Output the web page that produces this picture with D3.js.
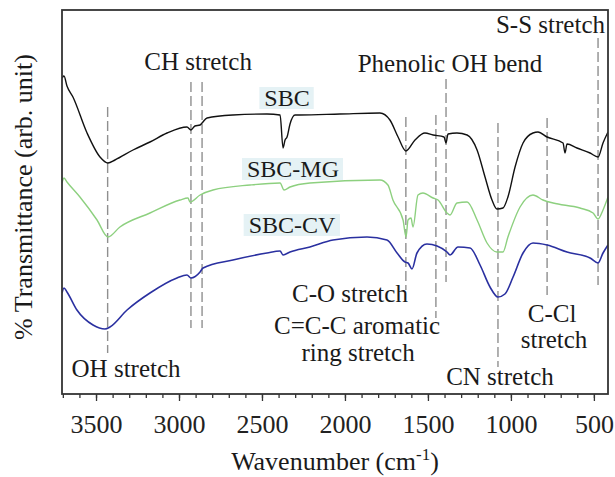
<!DOCTYPE html>
<html>
<head>
<meta charset="utf-8">
<script src="https://cdn.jsdelivr.net/npm/d3@7"></script>
<style>
  body { margin: 0; background: #fff; }
  svg { display: block; font-family: "Liberation Serif", "Times New Roman", serif; }
  .frame { fill: none; stroke: #333; stroke-width: 1.8; }
  .tick line { stroke: #333; stroke-width: 1.3; }
  .tick text { font-size: 26px; fill: #222; font-family: "Liberation Serif", serif; }
  .band { stroke: #8f8f8f; stroke-width: 1.4; stroke-dasharray: 10 4; }
  .note { font-size: 25px; fill: #1a1a1a; }
  .series-label { font-size: 24px; fill: #1a1a1a; }
  .series-box { fill: #e5f2f5; }
  .axis-title { font-size: 26px; fill: #1a1a1a; }
</style>
</head>
<body>
<div id="chart"></div>
<script>
// Wavenumber (cm-1) / transmittance (arb. unit)
const sbcWn = [3705, 3693, 3675, 3639, 3554, 3476, 3428, 3386, 3277, 3175, 3072, 2952, 2928, 2904, 2873,
  2861, 2831, 2675, 2470, 2391, 2373, 2361, 2349, 2331, 2301, 2271, 2030, 1789, 1729, 1680, 1633, 1578,
  1518, 1469, 1403, 1391, 1379, 1325, 1264, 1204, 1156, 1114, 1084, 1048, 1018, 975, 927, 867, 837, 782,
  686, 674, 662, 602, 523, 475, 445, 415];
const sbcT = [79, 79.5, 77, 74.25, 65.25, 59.25, 57.75, 58.5, 61, 63, 65.25, 66.75, 66, 67, 67.25,
  67.75, 69, 69.75, 70, 69.75, 61.5, 63.5, 64.25, 67.5, 69.75, 69.75, 70, 70.25, 68.5, 64.25, 60.75, 63.5,
  65.25, 64.75, 64.25, 62.75, 65, 65.25, 64.75, 61, 54.25, 48.5, 46.25, 46.5, 49.25, 56.75, 62.75, 65.25, 65.5, 64.25,
  62.75, 60.25, 62.5, 61.5, 60.25, 59.25, 62.75, 65.5];

const mgWn = [3705, 3693, 3675, 3597, 3494, 3428, 3356, 3175, 2994, 2946, 2934, 2873, 2795, 2572, 2391,
  2367, 2331, 2211, 1789, 1741, 1711, 1650, 1632, 1620, 1602, 1590, 1560, 1530, 1469, 1439, 1385, 1367,
  1325, 1264, 1204, 1144, 1084, 1048, 1018, 945, 867, 807, 746, 584, 505, 475, 445, 415];
const mgT = [52.75, 54, 53, 49.25, 43.5, 39.25, 41.75, 45.25, 48.5, 49, 48, 49.75, 51, 52.25, 52.75,
  51, 51.75, 52.75, 53.5, 52.25, 48.5, 43.5, 39.25, 43.5, 44, 41.75, 49.75, 50.25, 49, 48.5, 45.25, 44.75,
  47.75, 48, 43.5, 37.75, 35.5, 35.5, 39.25, 46.75, 49.75, 48.5, 47.75, 46.5, 45.25, 43.75, 46, 49.25];

const cvWn = [3705, 3693, 3675, 3615, 3518, 3446, 3416, 3313, 3175, 3012, 2952, 2928, 2873, 2855, 2675,
  2470, 2391, 2373, 2331, 2211, 2072, 1867, 1747, 1686, 1638, 1620, 1596, 1566, 1506, 1445, 1385, 1367,
  1319, 1246, 1186, 1126, 1078, 1036, 987, 927, 867, 782, 662, 523, 475, 445, 415];
const cvT = [25.25, 26.5, 25.5, 21, 17.25, 16.25, 16.75, 21, 25.25, 29, 29.75, 29, 30.5, 31.5, 33.5,
  35.25, 35.75, 34.75, 35.5, 36.75, 38.5, 39.25, 38.5, 35.25, 33, 32.75, 31.25, 35.25, 37.5, 37, 35.5, 34.75,
  36.75, 36.5, 32.25, 26.75, 24.25, 25, 29.25, 35.25, 37.75, 37.25, 35.5, 34, 32.75, 35.25, 37.25];

const seriesNames = ['SBC', 'SBC-MG', 'SBC-CV'];
const seriesColors = ['#111111', '#8dd07f', '#2a30a0'];

// Assigned bands: wavenumber, and the span of the dashed marker (arb. unit)
const bandWn = [3430, 2928, 2861, 1633, 1452, 1391, 1078, 782, 475];
const bandTop = [71.75, 78, 78, 69.25, 69.75, 78.75, 67.75, 69, 89];
const bandBottom = [10.25, 16.5, 16.5, 26, 19, 28, 6.75, 24.75, 27.25];

const majorTicks = [3500, 3000, 2500, 2000, 1500, 1000, 500];
const minorTicks = d3.range(3700, 400, -100);

const xLabel = 'Wavenumber (cm';
const yLabel = '% Transmittance (arb. unit)';

class Spectrum {

  constructor(selector) {
    this.width = 615;
    this.height = 477;
    this.margin = { top: 10, right: 7, bottom: 83, left: 62 };
    this.svg = d3.select(selector).append('svg')
      .attr('width', this.width)
      .attr('height', this.height);
    this.x = d3.scaleLinear()
      .domain([3705, 415])
      .range([this.margin.left, this.width - this.margin.right]);
    this.y = d3.scaleLinear()
      .domain([0, 96])
      .range([this.height - this.margin.bottom, this.margin.top]);
    this.draw();
  }

  draw() {
    this.drawBands();
    this.drawLines();
    this.drawNotes();
    this.drawSeriesLabels();
    this.drawAxes();
  }

  drawBands() {
    this.svg.append('g')
      .selectAll('line')
      .data(bandWn)
      .join('line')
        .attr('class', 'band')
        .attr('x1', d => this.x(d))
        .attr('x2', d => this.x(d))
        .attr('y1', (d, i) => this.y(bandTop[i]))
        .attr('y2', (d, i) => this.y(bandBottom[i]));
  }

  drawLines() {
    const [x0, x1] = this.x.range();
    const [y0, y1] = this.y.range();
    this.svg.append('clipPath')
        .attr('id', 'plot-clip')
      .append('rect')
        .attr('x', x0).attr('y', y1)
        .attr('width', x1 - x0).attr('height', y0 - y1);

    const line = d3.line()
      .x(d => this.x(d[0]))
      .y(d => this.y(d[1]))
      .curve(d3.curveMonotoneX);

    const series = [[sbcWn, sbcT], [mgWn, mgT], [cvWn, cvT]]
      .map(([wn, t]) => d3.zip(wn, t).sort((a, b) => a[0] - b[0]));

    this.svg.append('g')
        .attr('clip-path', 'url(#plot-clip)')
      .selectAll('path')
      .data(series)
      .join('path')
        .attr('fill', 'none')
        .attr('stroke', (d, i) => seriesColors[i])
        .attr('stroke-width', (d, i) => i === 2 ? 1.6 : 1.4)
        .attr('d', line);
  }

  drawNotes() {
    // text, wavenumber, arb. unit, anchor
    const notes = [
      ['CH stretch', 2885, 81, 'middle'],
      ['Phenolic OH bend', 1367, 80.5, 'middle'],
      ['S-S stretch', 433, 90.25, 'end'],
      ['OH stretch', 3319, 4.25, 'middle'],
      ['C-O stretch', 1970, 23, 'middle'],
      ['C=C-C aromatic', 1927, 15, 'middle'],
      ['ring stretch', 1921, 8.25, 'middle'],
      ['CN stretch', 1066, 2.25, 'middle'],
      ['C-Cl', 752, 18, 'middle'],
      ['stretch', 740, 11.5, 'middle']
    ];
    this.svg.append('g')
      .selectAll('text')
      .data(notes)
      .join('text')
        .attr('class', 'note')
        .attr('x', d => this.x(d[1]))
        .attr('y', d => this.y(d[2]))
        .attr('text-anchor', d => d[3])
        .text(d => d[0]);
  }

  drawSeriesLabels() {
    const spots = [[2349, 72], [2313, 54.25], [2319, 40.25]];
    const g = this.svg.append('g');
    seriesNames.forEach((name, i) => {
      const item = g.append('g');
      const rect = item.append('rect').attr('class', 'series-box');
      const text = item.append('text')
        .attr('class', 'series-label')
        .attr('x', this.x(spots[i][0]))
        .attr('y', this.y(spots[i][1]))
        .attr('text-anchor', 'middle')
        .text(name);
      const box = text.node().getBBox();
      rect
        .attr('x', box.x - 5)
        .attr('y', this.y(spots[i][1]) - 19)
        .attr('width', box.width + 9)
        .attr('height', 22);
    });
  }

  drawAxes() {
    const bottom = this.height - this.margin.bottom;

    this.svg.append('g')
      .attr('transform', `translate(0,${bottom})`)
      .call(d3.axisBottom(this.x).tickValues(minorTicks).tickSize(4).tickFormat(''))
      .call(g => g.select('.domain').remove());

    this.svg.append('g')
      .attr('transform', `translate(0,${bottom})`)
      .call(d3.axisBottom(this.x).tickValues(majorTicks).tickSize(7).tickPadding(14).tickFormat(d3.format('d')))
      .attr('font-family', null)
      .attr('font-size', null)
      .call(g => g.select('.domain').remove());

    const [x0, x1] = this.x.range();
    const [y0, y1] = this.y.range();
    this.svg.append('rect')
      .attr('class', 'frame')
      .attr('x', x0).attr('y', y1)
      .attr('width', x1 - x0).attr('height', y0 - y1);

    const title = this.svg.append('text')
      .attr('class', 'axis-title')
      .attr('x', (x0 + x1) / 2)
      .attr('y', 470)
      .attr('text-anchor', 'middle')
      .text(xLabel);
    title.append('tspan')
      .attr('dy', -10)
      .attr('font-size', 17)
      .text('-1');
    title.append('tspan')
      .attr('dy', 10)
      .text(')');

    this.svg.append('text')
      .attr('class', 'axis-title')
      .attr('transform', `translate(32,${(y0 + y1) / 2 - 5}) rotate(-90)`)
      .attr('text-anchor', 'middle')
      .text(yLabel);
  }

}

new Spectrum('#chart');
</script>
</body>
</html>
